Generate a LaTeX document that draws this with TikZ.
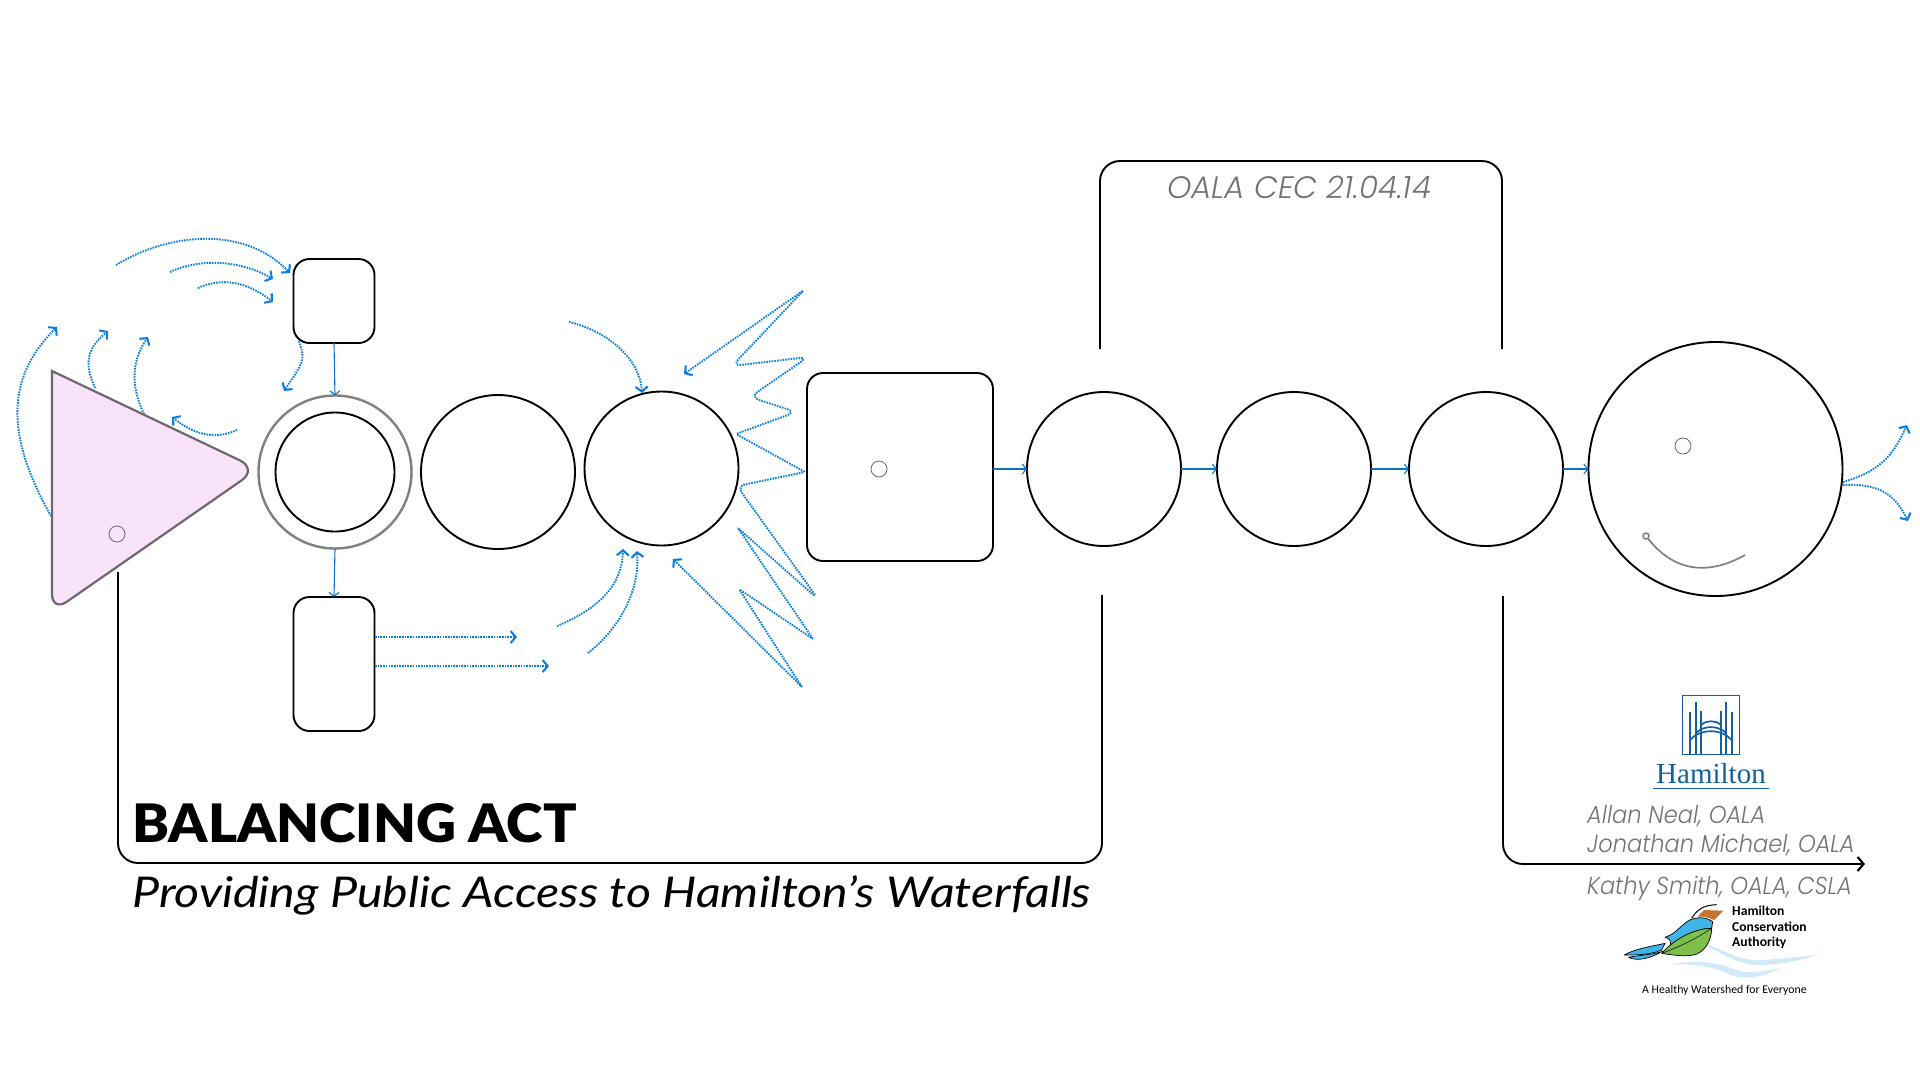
\documentclass[tikz,border=0pt]{standalone}
\usepackage{fontspec}
\usetikzlibrary{arrows.meta}
\setmainfont{Lato}
\newfontfamily\titlefont{Lato}[UprightFont=* Black, FakeStretch=1.045]
\newfontfamily\subfont{Lato}[FakeStretch=1.14]
\newfontfamily\thinfont{Poppins}[UprightFont=* Light, ItalicFont=* Light Italic]
\newfontfamily\bylinefont{Poppins}[UprightFont=* Light, ItalicFont=* Light Italic, FakeStretch=.92]
\newfontfamily\logofont{Carlito}
\definecolor{flowblue}{HTML}{0A7FE2}
\definecolor{hamblue}{HTML}{14609E}
\definecolor{trifill}{HTML}{F9E3F8}
\definecolor{tridraw}{HTML}{6F6670}
\definecolor{birdblue}{HTML}{3FB4E8}
\definecolor{birdgreen}{HTML}{7DBF4A}
\definecolor{birdbrown}{HTML}{C4752F}
\definecolor{wavecol}{HTML}{D2E9F8}
\tikzset{
  disc/.style={circle, draw=black, line width=1.9, minimum size=154, inner sep=0, outer sep=0},
  box/.style={rectangle, draw=black, line width=1.9, rounded corners=16, inner sep=0, outer sep=0},
  dot/.style={circle, draw=#1, line width=.8, minimum size=16, inner sep=0, outer sep=0},
  frameline/.style={draw=black, line width=1.9, rounded corners=20},
  link/.style={draw=flowblue!90!black, line width=1.1, -{Straight Barb[length=4,width=10,line width=1.1]}},
  flow/.style={draw=flowblue, line width=1.9, dash pattern=on 1.6 off 1.1, line cap=butt, -{Straight Barb[length=5,width=12,line width=2.1]}},
  byline/.style={anchor=base west, font=\bylinefont\itshape\fontsize{24.5}{25}\selectfont, text=black!55, inner sep=0},
  hcaline/.style={anchor=base west, inner sep=0, font=\logofont\bfseries\fontsize{13.6}{15}\selectfont},
}
\begin{document}
\begin{tikzpicture}[x=1pt, y=-1pt]
\useasboundingbox (0,0) rectangle (1920,1080);
\coordinate (fa) at (118,572);
\coordinate (fb) at (1102,863);
\coordinate (fc) at (1102,595);
\draw[frameline] (fa) |- (fb) -- (fc);
\coordinate (ga) at (1100,349);
\coordinate (gb) at (1502,161);
\coordinate (gc) at (1502,349);
\draw[frameline] (ga) |- (gb) -- (gc);
\coordinate (ha) at (1503,596);
\coordinate (hb) at (1865,864);
\draw[frameline, -{Straight Barb[length=6,width=14,line width=2.2]}] (ha) |- (hb);
\draw[fill=trifill, draw=tridraw, line width=2.2] (52,371) [rounded corners=20] -- (258,469) [rounded corners=18] -- (52,612) [sharp corners] -- cycle;
\node[dot=tridraw] (tridot) at (117,534){};
\node[disc, draw=black!50, line width=2.4, minimum size=153] (ring) at (335,472){};
\node[disc, minimum size=119] (c1) at (335,472){};
\node[disc] (c2) at (498,472){};
\node[disc] (c3) at (661.5,468.5){};
\node[box, minimum width=81, minimum height=84] (upbox) at (334,301){};
\node[box, minimum width=81, minimum height=134] (lowbox) at (334,664){};
\node[box, minimum width=186, minimum height=188] (bigbox) at (900,467){};
\node[dot=black!60] (boxdot) at (879,469){};
\node[disc] (c4) at (1104,469){};
\node[disc] (c5) at (1294,469){};
\node[disc] (c6) at (1486,469){};
\node[disc, minimum size=254] (c7) at (1715.5,469){};
\node[dot=black!60] (c7dot) at (1683,446){};
\node[circle, draw=black!50, line width=1.5, minimum size=6, inner sep=0, outer sep=0] (smile) at (1646,536){};
\coordinate (smileend) at (1745,555);
\draw[black!50, line width=1.7] (smile) .. controls (1678,577) and (1715,572) .. (smileend);
\draw[link] (upbox.south) -- (ring.north);
\draw[link] (ring.south) -- (lowbox.north);
\draw[link] (bigbox.east |- c4) -- (c4);
\draw[link] (c4) ++(77,0) -- (c5);
\draw[link] (c5) ++(77,0) -- (c6);
\draw[link] (c6) ++(77,0) -- (c7);
\coordinate (a1s) at (116,265);
\coordinate (a1e) at (290,273);
\draw[flow] (a1s) .. controls (170,232) and (245,226) .. (a1e);
\coordinate (a2s) at (170,272);
\coordinate (a2e) at (273,279);
\draw[flow] (a2s) .. controls (200,258) and (240,260) .. (a2e);
\coordinate (a3s) at (198,288);
\coordinate (a3e) at (273,302);
\draw[flow] (a3s) .. controls (220,278) and (245,280) .. (a3e);
\coordinate (a4s) at (299,341);
\coordinate (a4e) at (284,391);
\draw[flow] (a4s) .. controls (305,360) .. (a4e);
\coordinate (a5s) at (51,516);
\coordinate (a5e) at (57,327);
\draw[flow] (a5s) .. controls (8,440) and (3,380) .. (a5e);
\coordinate (a6s) at (95,388);
\coordinate (a6e) at (108,331);
\draw[flow] (a6s) .. controls (85,365) and (85,350) .. (a6e);
\coordinate (a7s) at (144,414);
\coordinate (a7e) at (148,337);
\draw[flow] (a7s) .. controls (130,385) and (132,360) .. (a7e);
\coordinate (a8s) at (237,430);
\coordinate (a8e) at (172,417);
\draw[flow] (a8s) .. controls (215,440) and (195,435) .. (a8e);
\coordinate (a9s) at (569,322);
\coordinate (a9e) at (642,393);
\draw[flow] (a9s) .. controls (610,332) and (640,360) .. (a9e);
\coordinate (a10s) at (557,626);
\coordinate (a10e) at (623,549);
\draw[flow] (a10s) .. controls (600,608) and (622,585) .. (a10e);
\coordinate (a11s) at (588,653);
\coordinate (a11e) at (637,551);
\draw[flow] (a11s) .. controls (620,628) and (640,590) .. (a11e);
\coordinate (a12s) at (375,637);
\coordinate (a12e) at (517,637);
\draw[flow] (a12s) -- (a12e);
\coordinate (a13s) at (375,666);
\coordinate (a13e) at (549,666);
\draw[flow] (a13s) -- (a13e);
\coordinate (a14s) at (1843,482);
\coordinate (a14e) at (1907,425);
\draw[flow] (a14s) .. controls (1885,470) and (1895,450) .. (a14e);
\coordinate (a15s) at (1843,485);
\coordinate (a15e) at (1908,521);
\draw[flow] (a15s) .. controls (1880,483) and (1895,495) .. (a15e);
\coordinate (zs) at (684,374);
\coordinate (ze) at (673,559);
\draw[flow, {Straight Barb[length=5,width=12,line width=2.1]}-{Straight Barb[length=5,width=12,line width=2.1]}, rounded corners=2]
  (zs) -- (804,290) [rounded corners=9] -- (732,366) -- (808,357) -- (750,397) -- (796,412)
  [rounded corners=1] -- (736,434) -- (805,472) [rounded corners=8] -- (737,486) -- (818,599)
  [rounded corners=1] -- (738,528) -- (813,639) -- (739,589) -- (802,687) -- (ze);
\node[anchor=base west, inner sep=0, font=\titlefont\fontsize{53}{53}\selectfont] (title) at (132,842){BALANCING ACT};
\node[anchor=base west, inner sep=0, font=\subfont\itshape\fontsize{42.4}{42}\selectfont] (subtitle) at (132,907){Providing Public Access to Hamilton’s Waterfalls};
\node[byline, font=\thinfont\itshape\fontsize{31}{31}\selectfont] (cec) at (1167,198){OALA CEC 21.04.14};
\node[byline] (allan) at (1587,823){Allan Neal, OALA};
\node[byline] (jon) at (1587,852){Jonathan Michael, OALA};
\node[byline] (kathy) at (1587,894){Kathy Smith, OALA, CSLA};
\begin{scope}[shift={(1650,690)}, x=.3333pt, y=-.3333pt]
\draw[hamblue, line width=1] (98,16) rectangle (267,192);
\foreach \xx/\yy in {120/65, 137/35, 153/62, 213/62, 229/35, 245/65}
  \draw[hamblue, line width=2] (\xx,192) -- (\xx,\yy);
\draw[hamblue, line width=1.7] (153,105) .. controls (170,90) and (196,90) .. (213,105);
\draw[hamblue, line width=1.7] (137,130) .. controls (160,105) and (206,105) .. (229,130);
\draw[hamblue, line width=1.7] (120,150) .. controls (150,115) and (215,115) .. (245,150);
\draw[hamblue, line width=1] (10,294) -- (358,294);
\end{scope}
\node[anchor=base west, inner sep=0, text=hamblue, font=\fontspec{Liberation Serif}\fontsize{29}{29}\selectfont] (hamilton) at (1656,783){Hamilton};
\begin{scope}[shift={(1620,900)}, x=.3333pt, y=-.3333pt]
\fill[wavecol] (240,130) .. controls (300,135) and (340,185) .. (420,180) .. controls (480,178) and (530,170) .. (590,165) .. controls (530,185) and (470,195) .. (420,195) .. controls (350,195) and (310,160) .. (240,130);
\fill[wavecol] (150,195) .. controls (230,175) and (300,190) .. (350,210) .. controls (390,225) and (440,210) .. (480,205) .. controls (430,235) and (360,240) .. (320,220) .. controls (270,195) and (210,190) .. (150,195);
\draw[fill=birdblue, draw=black, line width=.7] (12,165) .. controls (50,145) and (90,140) .. (135,130) -- (125,150) .. controls (90,165) and (50,165) .. (12,165);
\draw[fill=birdblue, draw=black, line width=.7] (25,172) .. controls (60,165) and (90,165) .. (125,155) .. controls (90,175) and (55,185) .. (25,172);
\draw[fill=birdblue, draw=black, line width=.7] (135,112) .. controls (175,100) and (190,60) .. (225,55) .. controls (245,50) and (265,55) .. (278,65) -- (275,85) .. controls (235,85) and (190,105) .. (150,140) .. controls (155,125) and (150,115) .. (135,112);
\draw[fill=birdgreen, draw=black, line width=.7] (125,160) .. controls (160,120) and (220,85) .. (275,85) .. controls (275,125) and (250,160) .. (220,165) .. controls (190,170) and (155,165) .. (125,160);
\draw[black, line width=.5] (125,160) .. controls (180,140) and (230,115) .. (275,85);
\fill[birdbrown] (232,50) -- (252,30) -- (310,32) -- (282,60) .. controls (265,52) and (245,48) .. (232,50);
\draw[black, line width=1] (215,55) .. controls (230,30) and (250,15) .. (290,14);
\end{scope}
\node[hcaline] (hca1) at (1732,915){Hamilton};
\node[hcaline] (hca2) at (1732,931){Conservation};
\node[hcaline] (hca3) at (1732,946){Authority};
\node[anchor=base west, inner sep=0, font=\logofont\fontsize{11.8}{14}\selectfont] (motto) at (1642,993){A Healthy Watershed for Everyone};
\end{tikzpicture}
\end{document}
